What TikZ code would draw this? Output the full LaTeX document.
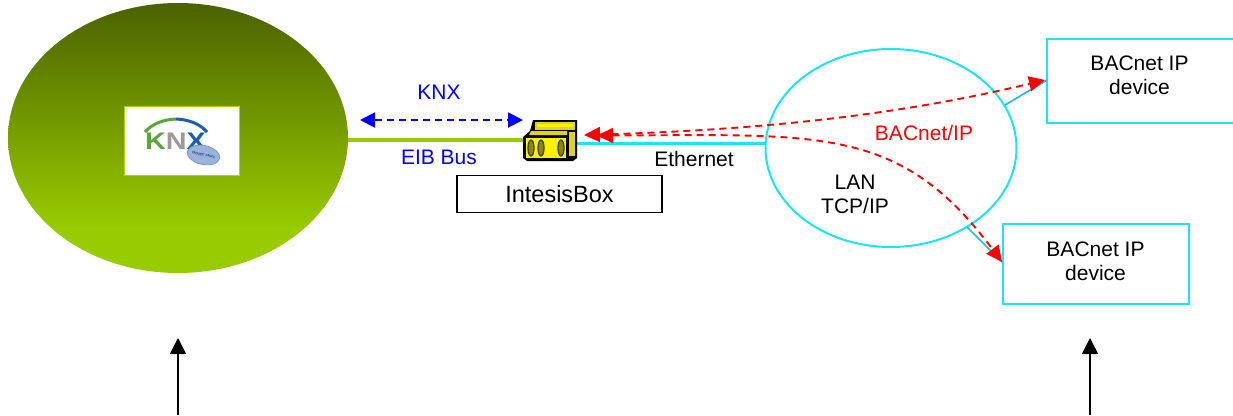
\documentclass[tikz,border=0pt]{standalone}
\usepackage{fontspec}
\setmainfont{Liberation Sans}
\usetikzlibrary{arrows.meta,shapes.geometric}
\definecolor{lancyan}{HTML}{19E6F0}
\definecolor{linkblue}{HTML}{22BBEE}
\definecolor{busgreen}{HTML}{99CC00}
\definecolor{knxblue}{HTML}{0000FF}
\definecolor{arrred}{HTML}{FF0000}
\definecolor{knxdark}{HTML}{4A6200}
\definecolor{logogreen}{HTML}{5AA53C}
\definecolor{logoblue}{HTML}{1C5FAE}
\definecolor{logogray}{HTML}{9A9A9A}
\definecolor{isofill}{HTML}{9DB2DA}
\definecolor{framelime}{HTML}{A8DC00}
\definecolor{iconolive}{HTML}{8A8A00}
\pgfdeclareverticalshading{knxsh}{100bp}{
 color(0bp)=(busgreen); color(33bp)=(busgreen); color(75bp)=(knxdark); color(100bp)=(knxdark)}
\tikzset{
 txt/.style={font=\fontsize{21}{24.5}\selectfont,align=center,inner sep=0pt,text=black},
 blutxt/.style={txt,text=knxblue},
 redtxt/.style={txt,text=arrred},
 devbox/.style={draw=lancyan,line width=2.2pt,inner sep=0pt,fill=white},
 redarrow/.style={draw=arrred,line width=1.9pt,dash pattern=on 7pt off 5pt,{Triangle[length=16pt,width=15pt,fill=arrred]}-{Triangle[length=16pt,width=15pt,fill=arrred]}},
 blarrow/.style={draw=knxblue,line width=1.9pt,dash pattern=on 7pt off 5pt,{Triangle[length=15pt,width=15pt,fill=knxblue]}-{Triangle[length=15pt,width=15pt,fill=knxblue]}},
 uparrow/.style={draw=black,line width=1.5pt,-{Triangle[length=16pt,width=16pt,fill=black]}},
 slot/.style={draw=black!75,line width=1.3pt,fill=iconolive}
}
\begin{document}
\begin{tikzpicture}[x=1pt,y=-1pt]
\useasboundingbox (0,0) rectangle (1233,415);
\coordinate (busend) at (524,139.5);
\coordinate (buswest) at (348,139.5);
\coordinate (ethstart) at (575,143.5);
\coordinate (lanw) at (765,143.5);
\node[ellipse,draw=none,minimum width=340pt,minimum height=270pt,inner sep=0pt,shading=knxsh] (knx) at (178,138) {};
\draw[busgreen,line width=4pt] (buswest) -- (busend);
\node[ellipse,draw=lancyan,line width=2pt,minimum width=251pt,minimum height=198pt,inner sep=0pt] (lan) at (891,148) {};
\draw[lancyan,line width=2.4pt] (ethstart) -- (lanw);
\node[devbox,minimum width=187pt,minimum height=84pt] (dev1) at (1140.5,81) {};
\node[devbox,minimum width=186pt,minimum height=80pt] (dev2) at (1096,264) {};
\node[txt] at (1139.5,75.5) {BACnet IP\\device};
\node[txt] at (1095.5,261.5) {BACnet IP\\device};
\coordinate (l1a) at (1005,105); \coordinate (l1b) at (1047,80);
\coordinate (l2a) at (967,227); \coordinate (l2b) at (1002,262);
\draw[linkblue,line width=1.7pt] (l1a) -- (l1b);
\draw[linkblue,line width=1.7pt] (l2a) -- (l2b);
% logo
\node[draw=framelime,line width=1.6pt,fill=white,minimum width=115pt,minimum height=69pt,inner sep=0pt] (logo) at (182,141) {};
\draw[logogreen,line width=3pt] (145,132) .. controls (152,124) and (163,119.5) .. (176,119);
\draw[logoblue,line width=3pt] (176,119) .. controls (189,119.5) and (200,124) .. (207,132);
\node[inner sep=0pt,xscale=1.2,font=\bfseries\fontsize{24}{24}\selectfont] (kl) at (175.5,141) {\textcolor{logogreen}{K}\textcolor{logogray}{N}\textcolor{logoblue}{X}};
\node[ellipse,fill=isofill,draw=logoblue!70!white,line width=.6pt,rotate=-12,minimum width=33pt,minimum height=19pt,inner sep=0pt,font=\bfseries\fontsize{3.4}{4}\selectfont,text=logoblue!70!black] (iso) at (203.5,155) {ISO/IEC 14543};
% IntesisBox icon
\fill[black] (533,120) -- (577,120) -- (577,158) -- (573,161) -- (527,161) -- (523,158) -- (523,137) -- (530,131) -- cycle;
\fill[yellow!85!black] (535,122) -- (575,122) -- (575,130) -- (535,130) -- cycle;
\fill[yellow] (537,124) rectangle (573,127);
\fill[yellow!85!black] (569,132) rectangle (575,156);
\fill[yellow!85!black] (531,131) -- (567,131) -- (567,135) -- (529,135) -- cycle;
\fill[yellow] (526,138) rectangle (566,158);
\draw[slot] (531,148) ellipse (3pt and 8pt);
\draw[slot] (541,148) ellipse (3pt and 8pt);
\draw[slot] (561,148) ellipse (3pt and 8pt);
\coordinate (icon) at (584,135);
\coordinate (icon2) at (597,135.5);
% boxes & labels
\node[draw=black,line width=1.8pt,minimum width=205pt,minimum height=37pt,inner sep=0pt,font=\fontsize{23.5}{26}\selectfont] (ibox) at (559.5,194) {IntesisBox};
\node[blutxt] at (439,92) {KNX};
\node[blutxt] at (439,157) {EIB Bus};
\node[txt] at (694,159) {Ethernet};
\node[redtxt] at (924,132.5) {BACnet/IP};
\node[txt] at (855,194.5) {LAN\\TCP/IP};
% arrows
\coordinate (kl1) at (360,120); \coordinate (kr1) at (523,120);
\draw[blarrow] (kl1) -- (kr1);
\coordinate (a1) at (1045,80); \coordinate (a2) at (1002,262);
\draw[redarrow] (icon) .. controls (760,130) and (900,115) .. (a1);
\draw[redarrow] (icon2) .. controls (820,135) and (900,125) .. (a2);
\coordinate (u1s) at (178,415); \coordinate (u1e) at (178,338);
\coordinate (u2s) at (1090,415); \coordinate (u2e) at (1090,338);
\draw[uparrow] (u1s) -- (u1e);
\draw[uparrow] (u2s) -- (u2e);
\end{tikzpicture}
\end{document}
